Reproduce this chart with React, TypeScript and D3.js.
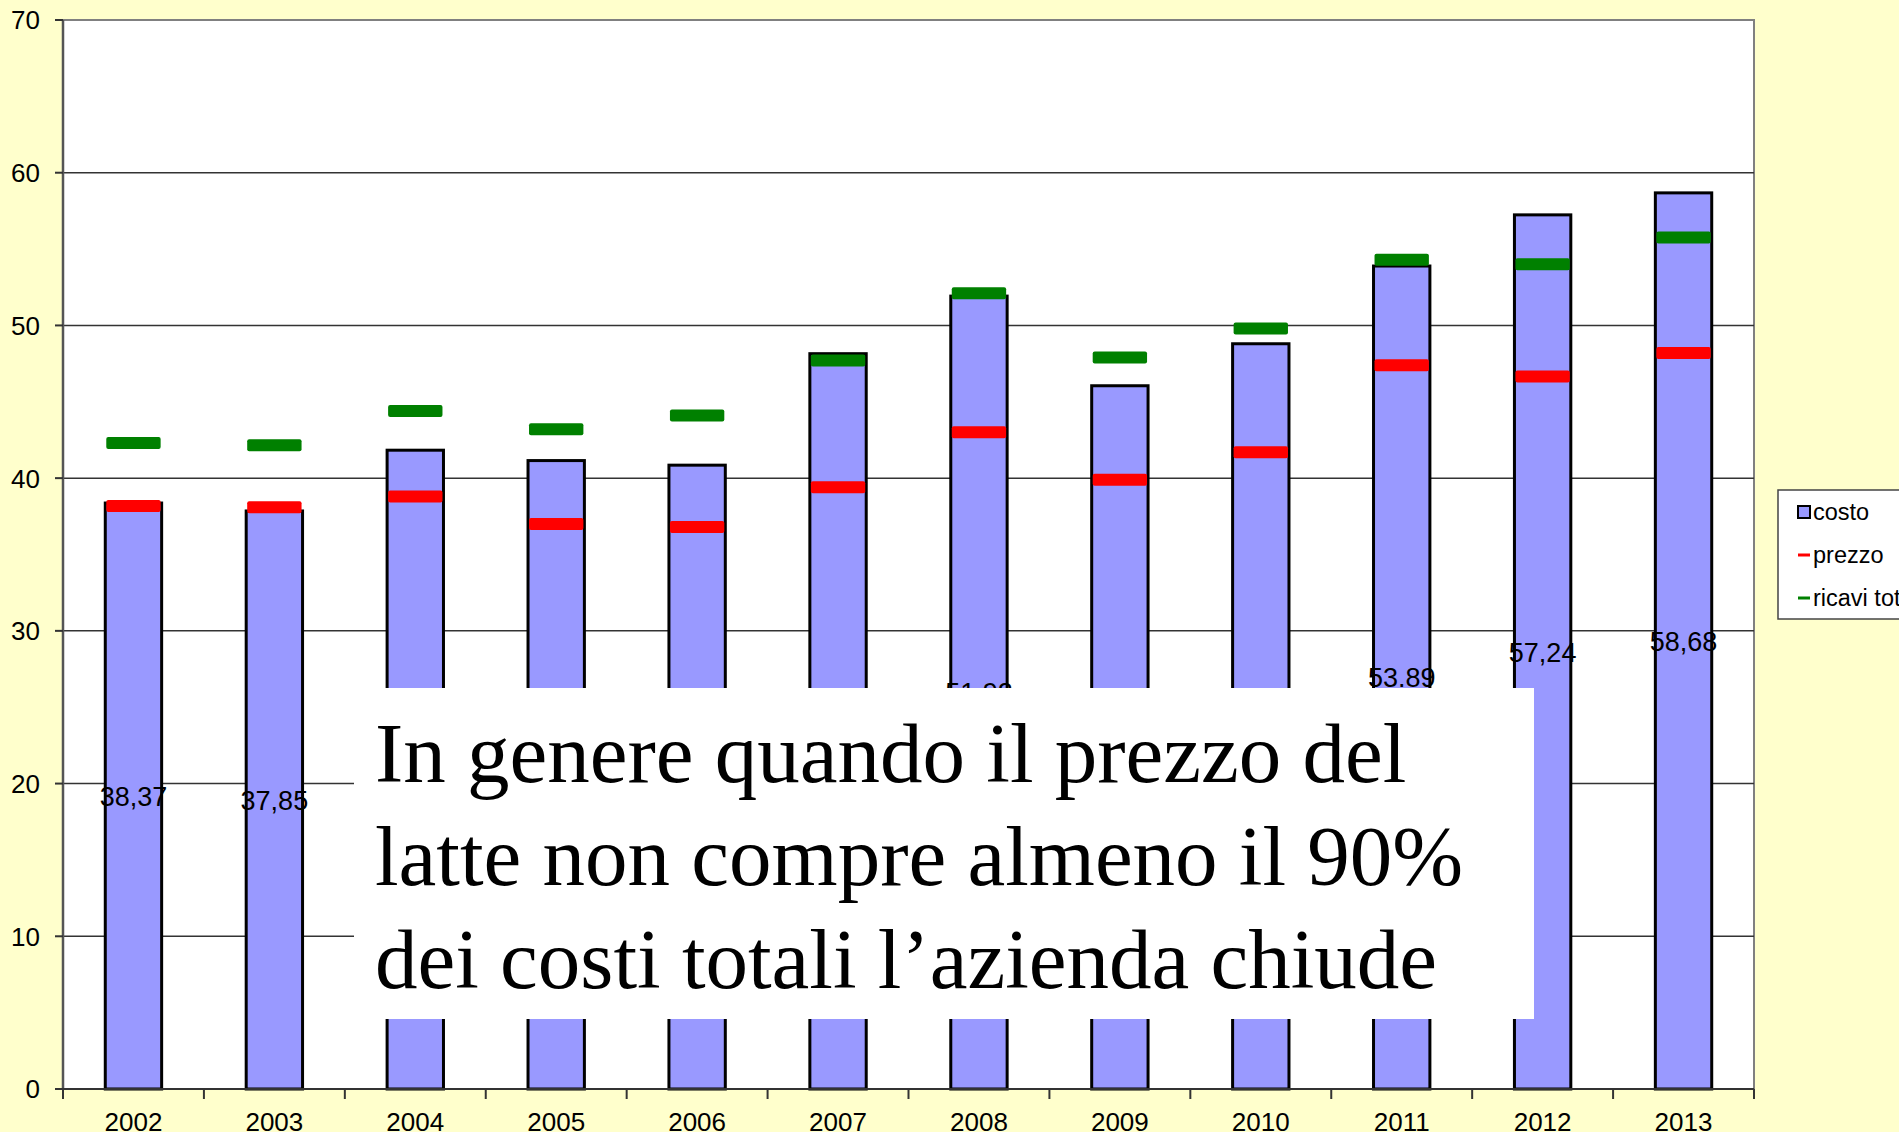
import { useMemo } from "react";
import * as d3 from "d3";

// data
const years = ["2002", "2003", "2004", "2005", "2006", "2007", "2008", "2009", "2010", "2011", "2012", "2013"];
const costo = [38.37, 37.85, 41.83, 41.15, 40.85, 48.15, 51.92, 46.05, 48.8, 53.89, 57.24, 58.68];
const costoLabels = ["38,37", "37,85", "41,83", "41,15", "40,85", "48,15", "51,92", "46,05", "48,80", "53.89", "57,24", "58,68"];
const prezzo = [38.18, 38.1, 38.8, 37.0, 36.8, 39.4, 43.0, 39.9, 41.7, 47.4, 46.65, 48.2];
const ricavi = [42.3, 42.15, 44.4, 43.2, 44.1, 47.7, 52.1, 47.9, 49.8, 54.3, 54.0, 55.75];
const yTicks = [0, 10, 20, 30, 40, 50, 60, 70];
const legendItems = ["costo", "prezzo", "ricavi tot"];
const noteLines = [
    "In genere quando il prezzo del",
    "latte non compre almeno il 90%",
    "dei costi totali l\u2019azienda chiude",
];

const W = 1899;
const H = 1132;
const plot = { left: 63, right: 1754, top: 20, bottom: 1089 };
const SANS = "Arial, 'Liberation Sans', sans-serif";
const SERIF = "'Times New Roman', 'Liberation Serif', serif";

export default function App() {
    const x = useMemo(
        () => d3.scaleBand<string>().domain(years).range([plot.left, plot.right]).paddingInner(0.6).paddingOuter(0.3),
        []
    );
    const y = useMemo(() => d3.scaleLinear().domain([0, 70]).range([plot.bottom, plot.top]), []);
    const step = x.step();
    const bw = x.bandwidth();
    const markW = bw - 2;
    const markH = 12;

    return (
        <svg width={W} height={H} style={{ position: "absolute", left: 0, top: 0, background: "#FFFFCC" }}>
            {/* plot area */}
            <rect x={plot.left} y={plot.top} width={plot.right - plot.left} height={plot.bottom - plot.top} fill="#fff" stroke="#808080" strokeWidth={2} />

            {/* grid */}
            {yTicks.filter((v) => v > 0 && v < 70).map((v) => (
                <line key={`g-${v}`} x1={plot.left} x2={plot.right} y1={y(v)} y2={y(v)} stroke="#333" strokeWidth={1.5} />
            ))}

            {/* bars */}
            {years.map((yr, i) => (
                <rect key={`b-${yr}`} x={x(yr)} y={y(costo[i])} width={bw} height={y(0) - y(costo[i])} fill="#9999FF" stroke="#000" strokeWidth={3} />
            ))}

            {/* bar labels */}
            {years.map((yr, i) => (
                <text key={`l-${yr}`} x={(x(yr) ?? 0) + bw / 2} y={y(costo[i] / 2)} dy="0.36em" textAnchor="middle" fontFamily={SANS} fontSize={27} fill="#000">
                    {costoLabels[i]}
                </text>
            ))}

            {/* prezzo markers */}
            {years.map((yr, i) => (
                <rect key={`p-${yr}`} x={(x(yr) ?? 0) + bw / 2 - markW / 2} y={y(prezzo[i]) - markH / 2} width={markW} height={markH} rx={2} fill="#FF0000" />
            ))}

            {/* ricavi markers */}
            {years.map((yr, i) => (
                <rect key={`r-${yr}`} x={(x(yr) ?? 0) + bw / 2 - markW / 2} y={y(ricavi[i]) - markH / 2} width={markW} height={markH} rx={2} fill="#008000" />
            ))}

            {/* y axis */}
            <line x1={plot.left} x2={plot.left} y1={plot.top} y2={plot.bottom} stroke="#555" strokeWidth={2.5} />
            {yTicks.map((v) => (
                <g key={`yt-${v}`} transform={`translate(0,${y(v)})`}>
                    <line x1={plot.left - 8} x2={plot.left} stroke="#333" strokeWidth={2} />
                    <text x={40} dy="0.36em" textAnchor="end" fontFamily={SANS} fontSize={26} fill="#000">{v}</text>
                </g>
            ))}

            {/* x axis */}
            <line x1={plot.left} x2={plot.right} y1={plot.bottom} y2={plot.bottom} stroke="#333" strokeWidth={2} />
            {d3.range(years.length + 1).map((k) => (
                <line key={`xt-${k}`} x1={plot.left + k * step} x2={plot.left + k * step} y1={plot.bottom} y2={plot.bottom + 10} stroke="#333" strokeWidth={2} />
            ))}
            {years.map((yr) => (
                <text key={`xl-${yr}`} x={(x(yr) ?? 0) + bw / 2} y={1131} textAnchor="middle" fontFamily={SANS} fontSize={26} fill="#000">{yr}</text>
            ))}

            {/* legend */}
            <rect x={1778} y={490} width={140} height={129} fill="#fff" stroke="#444" strokeWidth={1.5} />
            {legendItems.map((name, i) => {
                const cy = 512 + i * 43;
                return (
                    <g key={`lg-${name}`}>
                        {i === 0 ? (
                            <rect x={1798} y={cy - 6} width={12} height={12} fill="#9999FF" stroke="#000" strokeWidth={2} />
                        ) : (
                            <line x1={1798} x2={1810} y1={cy} y2={cy} stroke={i === 1 ? "#FF0000" : "#008000"} strokeWidth={3} />
                        )}
                        <text x={1813} y={cy} dy="0.36em" fontFamily={SANS} fontSize={23.5} fill="#000">{name}</text>
                    </g>
                );
            })}

            {/* note box */}
            <rect x={354} y={688} width={1180} height={331} fill="#fff" />
            {noteLines.map((ln, i) => (
                <text key={`n-${i}`} x={375} y={782 + i * 103} fontFamily={SERIF} fontSize={85} fill="#000">{ln}</text>
            ))}
        </svg>
    );
}
